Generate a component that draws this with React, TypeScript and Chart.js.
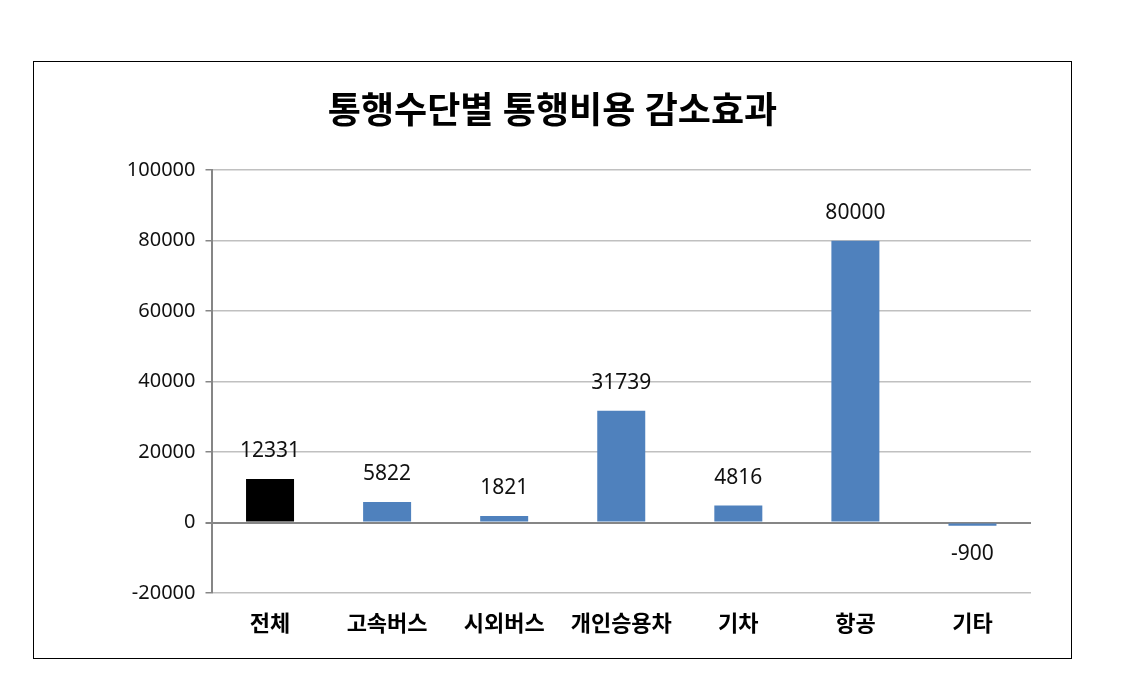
import React, { useEffect, useRef } from "react";
import { Chart, registerables } from "chart.js";

Chart.register(...registerables);

const TITLE = "통행수단별 통행비용 감소효과";
const CATEGORIES = ["전체", "고속버스", "시외버스", "개인승용차", "기차", "항공", "기타"];
const VALUES = [12331, 5822, 1821, 31739, 4816, 80000, -900];
const BAR_COLORS = ["#000000", "#4F81BD", "#4F81BD", "#4F81BD", "#4F81BD", "#4F81BD", "#4F81BD"];
const Y_MIN = -20000;
const Y_MAX = 100000;
const Y_STEP = 20000;

const FONT = '"Noto Sans", "Noto Sans CJK KR", sans-serif';

const valueLabels = {
  id: "valueLabels",
  afterDatasetsDraw(chart: any) {
    const ctx = chart.ctx;
    const meta = chart.getDatasetMeta(0);
    ctx.save();
    ctx.font = `21px ${FONT}`;
    ctx.fillStyle = "#111111";
    ctx.textAlign = "center";
    ctx.textBaseline = "middle";
    meta.data.forEach((el: any, i: number) => {
      const v = VALUES[i];
      const y = v >= 0 ? el.y - 28 : el.y + 28;
      ctx.fillText(String(v), el.x, y);
    });
    ctx.restore();
  },
};

export default function App() {
  const ref = useRef<HTMLCanvasElement>(null);
  useEffect(() => {
    if (!ref.current) return;
    const chart = new Chart(ref.current, {
      type: "bar",
      data: {
        labels: CATEGORIES,
        datasets: [
          {
            data: VALUES,
            backgroundColor: BAR_COLORS,
            borderWidth: 0,
            barPercentage: 0.41,
            categoryPercentage: 1,
          },
        ],
      },
      options: {
        responsive: false,
        animation: false,
        layout: { padding: { left: 40, right: 40, top: 0, bottom: 0 } },
        plugins: {
          legend: { display: false },
          tooltip: { enabled: false },
          title: {
            display: true,
            text: TITLE,
            color: "#000000",
            font: { family: FONT, size: 36, weight: "bold", lineHeight: 1.2 },
            padding: { top: 29, bottom: 36 },
          },
        },
        scales: {
          x: {
            grid: { display: false },
            border: { display: false },
            ticks: {
              color: "#000000",
              font: { family: FONT, size: 22, weight: "bold" },
              padding: 11,
              maxRotation: 0,
            },
            afterFit(scale: any) {
              scale.height = 65;
            },
          },
          y: {
            min: Y_MIN,
            max: Y_MAX,
            ticks: {
              stepSize: Y_STEP,
              color: "#111111",
              font: { family: FONT, size: 20 },
              padding: 10,
              callback: (v: any) => String(v),
            },
            grid: {
              color: (c: any) => (c.tick && c.tick.value === 0 ? "#868686" : "#c0c0c0"),
              lineWidth: (c: any) => (c.tick && c.tick.value === 0 ? 2 : 1.5),
              tickColor: "#868686",
              tickLength: 6,
            },
            border: { display: true, color: "#868686", width: 2 },
            afterFit(scale: any) {
              scale.width = 137.5;
            },
          },
        },
      },
      plugins: [valueLabels],
    });
    return () => chart.destroy();
  }, []);

  return (
    <div style={{ position: "relative", width: 1124, height: 664 }}>
      <div
        style={{
          position: "absolute",
          left: 25,
          top: 53,
          width: 1037,
          height: 596,
          border: "1px solid #000",
          background: "#fff",
        }}
      >
        <canvas ref={ref} width={1037} height={596} style={{ display: "block" }} />
      </div>
    </div>
  );
}
